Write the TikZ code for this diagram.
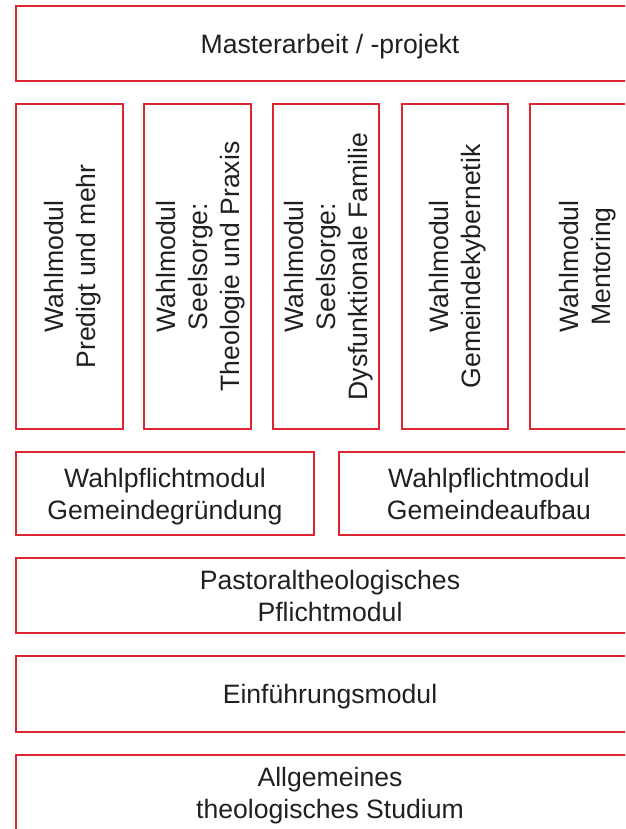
\documentclass[tikz,border=0pt]{standalone}
\usepackage{fontspec}
\setmainfont{Liberation Sans}
\usetikzlibrary{calc}
\definecolor{boxred}{HTML}{DA2630}
\definecolor{txt}{HTML}{231F20}
\newcommand{\dq}{\vphantom{g}}
\begin{document}
\begin{tikzpicture}[x=1pt,y=1pt,
  modbox/.style={draw=boxred, line width=2pt, inner sep=0pt, anchor=center},
  colbox/.style={modbox, minimum height=325pt},
  modtext/.style={inner sep=0pt, align=center, text=txt, anchor=center,
    font=\fontsize{26.6}{32}\selectfont},
  coltext/.style={modtext, rotate=90}]
\useasboundingbox (0,0) rectangle (625,-829);
\clip (0,0) rectangle (625,-829);
% boxes
\node[modbox, minimum width=628pt, minimum height=75pt] (master) at (330,-43.5) {};
\node[colbox, minimum width=107pt] (c1) at (69.5,-266.5) {};
\node[colbox, minimum width=107pt] (c2) at (197.5,-266.5) {};
\node[colbox, minimum width=106pt] (c3) at (326,-266.5) {};
\node[colbox, minimum width=106pt] (c4) at (455,-266.5) {};
\node[colbox, minimum width=110pt] (c5) at (585,-266.5) {};
\node[modbox, minimum width=298pt, minimum height=83pt] (wp1) at (165,-493.5) {};
\node[modbox, minimum width=300pt, minimum height=83pt] (wp2) at (489,-493.5) {};
\node[modbox, minimum width=628pt, minimum height=75pt] (past) at (330,-595.5) {};
\node[modbox, minimum width=628pt, minimum height=76pt] (einf) at (330,-694) {};
\node[modbox, minimum width=628pt, minimum height=76pt] (allg) at (330,-793) {};
% texts
\node[modtext] (tmaster) at ($(master)+(0,-2.8)$) {Masterarbeit / -projekt\dq};
\node[coltext] (tc1) at ($(c1)+(2.8,0)$) {Wahlmodul\\Predigt und mehr\dq};
\node[coltext] (tc2) at ($(c2)+(2.8,0)$) {Wahlmodul\\Seelsorge:\\Theologie und Praxis\dq};
\node[coltext] (tc3) at ($(c3)+(2.8,0)$) {Wahlmodul\\Seelsorge:\\Dysfunktionale Familie\dq};
\node[coltext] (tc4) at ($(c4)+(2.8,0)$) {Wahlmodul\\Gemeindekybernetik\dq};
\node[coltext] (tc5) at ($(c5)+(2.8,0)$) {Wahlmodul\\Mentoring\dq};
\node[modtext] (twp1) at ($(wp1)+(0,-2.8)$) {Wahlpflichtmodul\\Gemeindegründung\dq};
\node[modtext] (twp2) at ($(wp2)+(0,-2.8)$) {Wahlpflichtmodul\\Gemeindeaufbau\dq};
\node[modtext] (tpast) at ($(past)+(0,-2.8)$) {Pastoraltheologisches\\Pflichtmodul\dq};
\node[modtext] (teinf) at ($(einf)+(0,-2.8)$) {Einführungsmodul\dq};
\node[modtext] (tallg) at ($(allg)+(0,-2.8)$) {Allgemeines\\theologisches Studium\dq};
\end{tikzpicture}
\end{document}
